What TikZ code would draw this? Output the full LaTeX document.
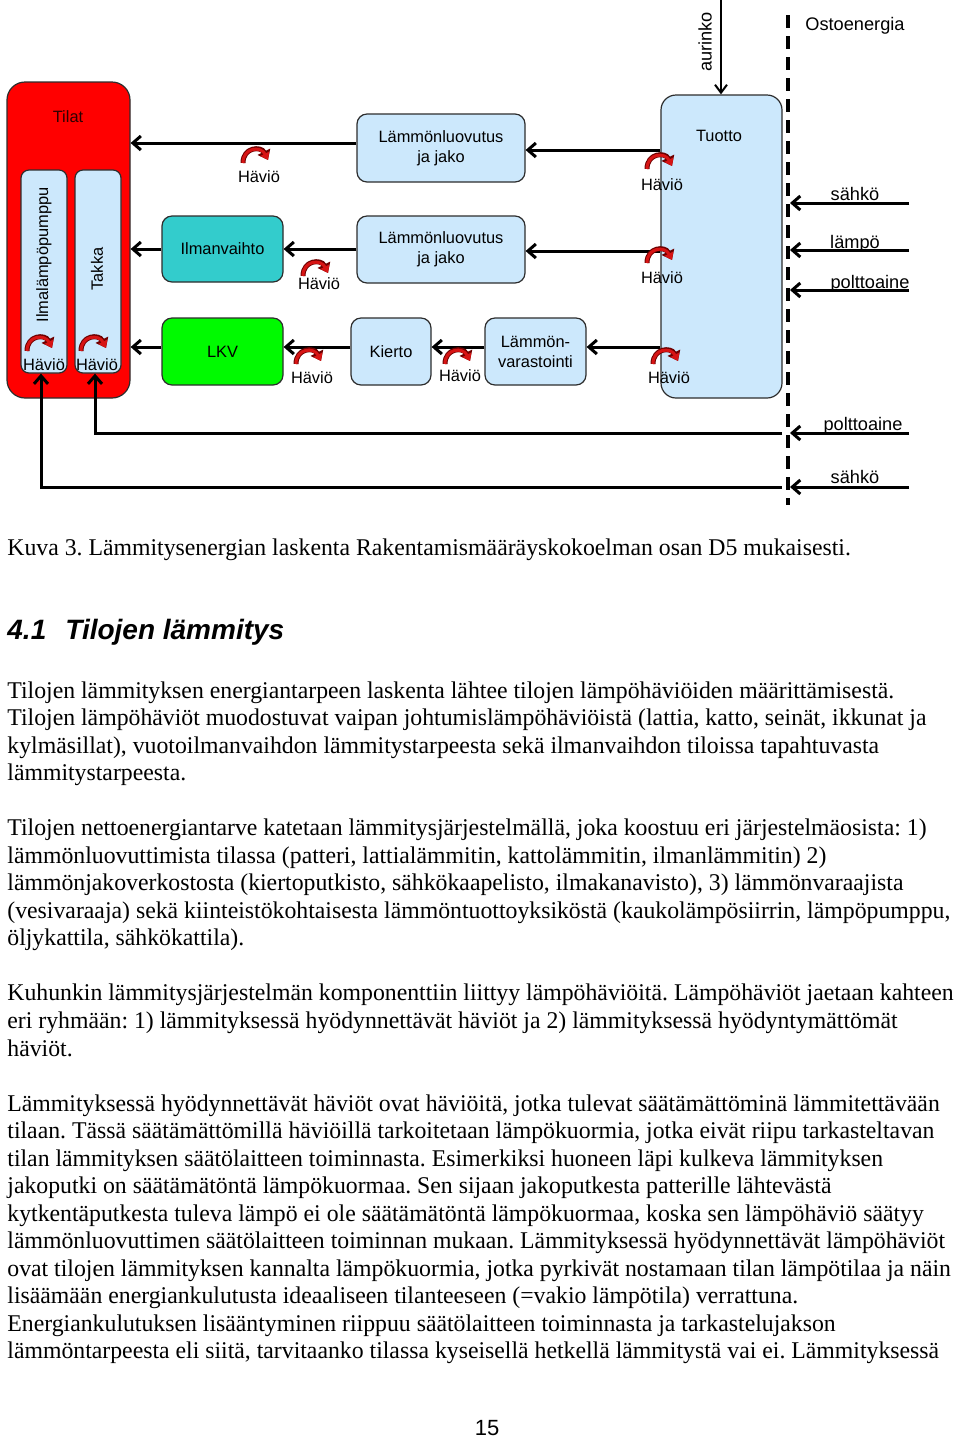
\documentclass[tikz,border=0pt]{standalone}
\usepackage{fontspec}
\setmainfont[FakeStretch=0.99]{Liberation Serif}
\newfontfamily\arialf{Liberation Sans}
\usetikzlibrary{arrows.meta}
\definecolor{lblue}{RGB}{204,232,252}
\definecolor{tealbox}{RGB}{51,204,204}
\definecolor{greenbox}{RGB}{0,250,0}
\definecolor{lossred}{RGB}{215,20,20}
\definecolor{lossdark}{RGB}{110,0,0}
\definecolor{bordc}{RGB}{45,45,45}
\definecolor{tilatc}{RGB}{45,0,0}
\newcommand\mybodyline[2]{\node[body] (b#1) at (7,{698+27.54*#1}) {#2};}
\begin{document}
\frenchspacing
\begin{tikzpicture}[x=0.5pt,y=-0.5pt,
  box/.style={draw=bordc,line width=0.6pt,rounded corners=5pt,fill=lblue,
    font=\arialf\fontsize{8.2}{10}\selectfont,align=center,inner sep=0pt},
  lbl/.style={font=\arialf\fontsize{8.2}{10}\selectfont,inner sep=0pt},
  rlbl/.style={font=\arialf\fontsize{9.1}{11}\selectfont,inner sep=0pt,anchor=base},
  arr/.style={line width=1.5pt,-{Straight Barb[length=4pt,width=7pt]}},
  dashl/.style={line width=2pt,dash pattern=on 6.5pt off 4pt},
  body/.style={font=\frenchspacing\fontsize{12}{14}\selectfont,inner sep=0pt,anchor=base west},
  head/.style={font=\arialf\bfseries\itshape\fontsize{14}{16}\selectfont,inner sep=0pt,anchor=base west},
  loss/.pic={
    \draw[line width=2.5pt,draw=lossdark,-{Triangle[length=4.6pt,width=6.8pt]}]
      (-13,6) .. controls (-13,-10) and (5,-11) .. (12,3);
    \draw[line width=1.5pt,draw=lossred,-{Triangle[length=3.5pt,width=4.8pt]}]
      (-13,6) .. controls (-13,-10) and (5,-11) .. (12,3);
  }
]
\useasboundingbox (0,0) rectangle (960,1437);

% ---------- boxes ----------
\node[box,fill=red,rounded corners=9pt,minimum width=61.5pt,minimum height=158pt] (tilat) at (68.5,240) {};
\node[lbl,text=tilatc] (tilatl) at (68,117) {Tilat};
\node[box,rounded corners=4pt,minimum width=23pt,minimum height=101.5pt] (ilp) at (44,271.5) {};
\node[box,rounded corners=4pt,minimum width=23pt,minimum height=101.5pt] (takka) at (98,271.5) {};
\node[lbl,rotate=90] (ilpl) at (44,255) {Ilmalämpöpumppu};
\node[lbl,rotate=90] (takkal) at (97,269) {Takka};

\node[box,fill=tealbox,minimum width=60.5pt,minimum height=33pt] (ilv) at (222.5,249) {Ilmanvaihto};
\node[box,fill=greenbox,minimum width=60.5pt,minimum height=33.5pt] (lkv) at (222.5,351.5) {LKV};
\node[box,minimum width=84pt,minimum height=34pt] (l1) at (441,148) {Lämmönluovutus\\ja jako};
\node[box,minimum width=84pt,minimum height=33.5pt] (l2) at (441,249.5) {Lämmönluovutus\\ja jako};
\node[box,minimum width=40pt,minimum height=33.5pt] (kierto) at (391,351.5) {Kierto};
\node[box,minimum width=50.5pt,minimum height=33.5pt] (var) at (535.5,351.5) {Lämmön-\\varastointi};
\node[box,rounded corners=7.5pt,minimum width=60.5pt,minimum height=151.5pt] (tuotto) at (721.5,246.5) {};
\node[lbl] (tuottol) at (719,136) {Tuotto};

% ---------- connectors ----------
\draw[arr] (tuotto.west |- 0,150) -- (l1.east |- 0,150);
\draw[arr] (l1.west |- 0,143) -- (tilat.east |- 0,143);
\draw[arr] (tuotto.west |- 0,251) -- (l2.east |- 0,251);
\draw[arr] (l2.west |- 0,249) -- (ilv.east |- 0,249);
\draw[arr] (ilv.west |- 0,249) -- (tilat.east |- 0,249);
\draw[arr] (tuotto.west |- 0,347) -- (var.east |- 0,347);
\draw[arr] (var.west |- 0,347) -- (kierto.east |- 0,347);
\draw[arr] (kierto.west |- 0,347) -- (lkv.east |- 0,347);
\draw[arr] (lkv.west |- 0,347) -- (tilat.east |- 0,347);

% aurinko
\coordinate (sun) at (721,0);
\draw[line width=1pt,-{Straight Barb[length=4pt,width=6pt]}] (sun) -- (sun |- tuotto.north);
\node[font=\arialf\fontsize{9.1}{11}\selectfont,inner sep=0pt,rotate=90] (aur) at (705,42) {aurinko};

% dashed boundary
\coordinate (dtop) at (788,15);
\coordinate (dbot) at (788,505);
\draw[dashl] (dtop) -- (dbot);
\node[font=\arialf\fontsize{9.1}{11}\selectfont,inner sep=0pt] (osto) at (855,26) {Ostoenergia};

% purchased energy inputs
\coordinate (in1) at (909,203); \coordinate (t1) at (790,203);
\coordinate (in2) at (909,250); \coordinate (t2) at (790,250);
\coordinate (in3) at (909,290); \coordinate (t3) at (790,290);
\coordinate (in4) at (909,433); \coordinate (t4) at (790,433);
\coordinate (in5) at (909,487); \coordinate (t5) at (790,487);
\draw[arr] (in1) -- (t1);
\draw[arr] (in2) -- (t2);
\draw[arr] (in3) -- (t3);
\draw[arr] (in4) -- (t4);
\draw[arr] (in5) -- (t5);
\node[rlbl] (s1) at (855,200) {sähkö};
\node[rlbl] (s2) at (855,248) {lämpö};
\node[rlbl] (s3) at (870,288) {polttoaine};
\node[rlbl] (s4) at (863,430) {polttoaine};
\node[rlbl] (s5) at (855,483) {sähkö};

% lines to the heat pump and fireplace
\coordinate (e4) at (782,433); \coordinate (k4) at (95,433);
\coordinate (e5) at (782,487); \coordinate (k5) at (41,487);
\draw[arr] (e4) -- (k4) -- (k4 |- takka.south);
\draw[arr] (e5) -- (k5) -- (k5 |- ilp.south);

% ---------- losses ----------
\pic at (256,157) {loss};  \node[lbl] (h1) at (259,177) {Häviö};
\pic at (316,270) {loss};  \node[lbl] (h2) at (319,284) {Häviö};
\pic at (309,358) {loss};  \node[lbl] (h3) at (312,378) {Häviö};
\pic at (458,358) {loss};  \node[lbl] (h4) at (460,376) {Häviö};
\pic at (660,163) {loss};  \node[lbl] (h5) at (662,185) {Häviö};
\pic at (660,257) {loss};  \node[lbl] (h6) at (662,278) {Häviö};
\pic at (666,358) {loss};  \node[lbl] (h7) at (669,378) {Häviö};
\pic at (40,345) {loss};   \node[lbl] (h8) at (44,365) {Häviö};
\pic at (94,345) {loss};   \node[lbl] (h9) at (97,365) {Häviö};

% ---------- text ----------
\node[body] (cap) at (7,555) {Kuva 3. Lämmitysenergian laskenta Rakentamismääräyskokoelman osan D5 mukaisesti.};
\node[head] (hnum) at (7,639) {4.1};
\node[head] (htitle) at (65,639) {Tilojen lämmitys};

\mybodyline{0}{Tilojen lämmityksen energiantarpeen laskenta lähtee tilojen lämpöhäviöiden määrittämisestä.}
\mybodyline{1}{Tilojen lämpöhäviöt muodostuvat vaipan johtumislämpöhäviöistä (lattia, katto, seinät, ikkunat ja}
\mybodyline{2}{kylmäsillat), vuotoilmanvaihdon lämmitystarpeesta sekä ilmanvaihdon tiloissa tapahtuvasta}
\mybodyline{3}{lämmitystarpeesta.}
\mybodyline{5}{Tilojen nettoenergiantarve katetaan lämmitysjärjestelmällä, joka koostuu eri järjestelmäosista: 1)}
\mybodyline{6}{lämmönluovuttimista tilassa (patteri, lattialämmitin, kattolämmitin, ilmanlämmitin) 2)}
\mybodyline{7}{lämmönjakoverkostosta (kiertoputkisto, sähkökaapelisto, ilmakanavisto), 3) lämmönvaraajista}
\mybodyline{8}{(vesivaraaja) sekä kiinteistökohtaisesta lämmöntuottoyksiköstä (kaukolämpösiirrin, lämpöpumppu,}
\mybodyline{9}{öljykattila, sähkökattila).}
\mybodyline{11}{Kuhunkin lämmitysjärjestelmän komponenttiin liittyy lämpöhäviöitä. Lämpöhäviöt jaetaan kahteen}
\mybodyline{12}{eri ryhmään: 1) lämmityksessä hyödynnettävät häviöt ja 2) lämmityksessä hyödyntymättömät}
\mybodyline{13}{häviöt.}
\mybodyline{15}{Lämmityksessä hyödynnettävät häviöt ovat häviöitä, jotka tulevat säätämättöminä lämmitettävään}
\mybodyline{16}{tilaan. Tässä säätämättömillä häviöillä tarkoitetaan lämpökuormia, jotka eivät riipu tarkasteltavan}
\mybodyline{17}{tilan lämmityksen säätölaitteen toiminnasta. Esimerkiksi huoneen läpi kulkeva lämmityksen}
\mybodyline{18}{jakoputki on säätämätöntä lämpökuormaa. Sen sijaan jakoputkesta patterille lähtevästä}
\mybodyline{19}{kytkentäputkesta tuleva lämpö ei ole säätämätöntä lämpökuormaa, koska sen lämpöhäviö säätyy}
\mybodyline{20}{lämmönluovuttimen säätölaitteen toiminnan mukaan. Lämmityksessä hyödynnettävät lämpöhäviöt}
\mybodyline{21}{ovat tilojen lämmityksen kannalta lämpökuormia, jotka pyrkivät nostamaan tilan lämpötilaa ja näin}
\mybodyline{22}{lisäämään energiankulutusta ideaaliseen tilanteeseen (=vakio lämpötila) verrattuna.}
\mybodyline{23}{Energiankulutuksen lisääntyminen riippuu säätölaitteen toiminnasta ja tarkastelujakson}
\mybodyline{24}{lämmöntarpeesta eli siitä, tarvitaanko tilassa kyseisellä hetkellä lämmitystä vai ei. Lämmityksessä}

\node[font=\arialf\fontsize{11}{13}\selectfont,inner sep=0pt,anchor=base] (pnum) at (487,1435) {15};
\end{tikzpicture}
\end{document}
